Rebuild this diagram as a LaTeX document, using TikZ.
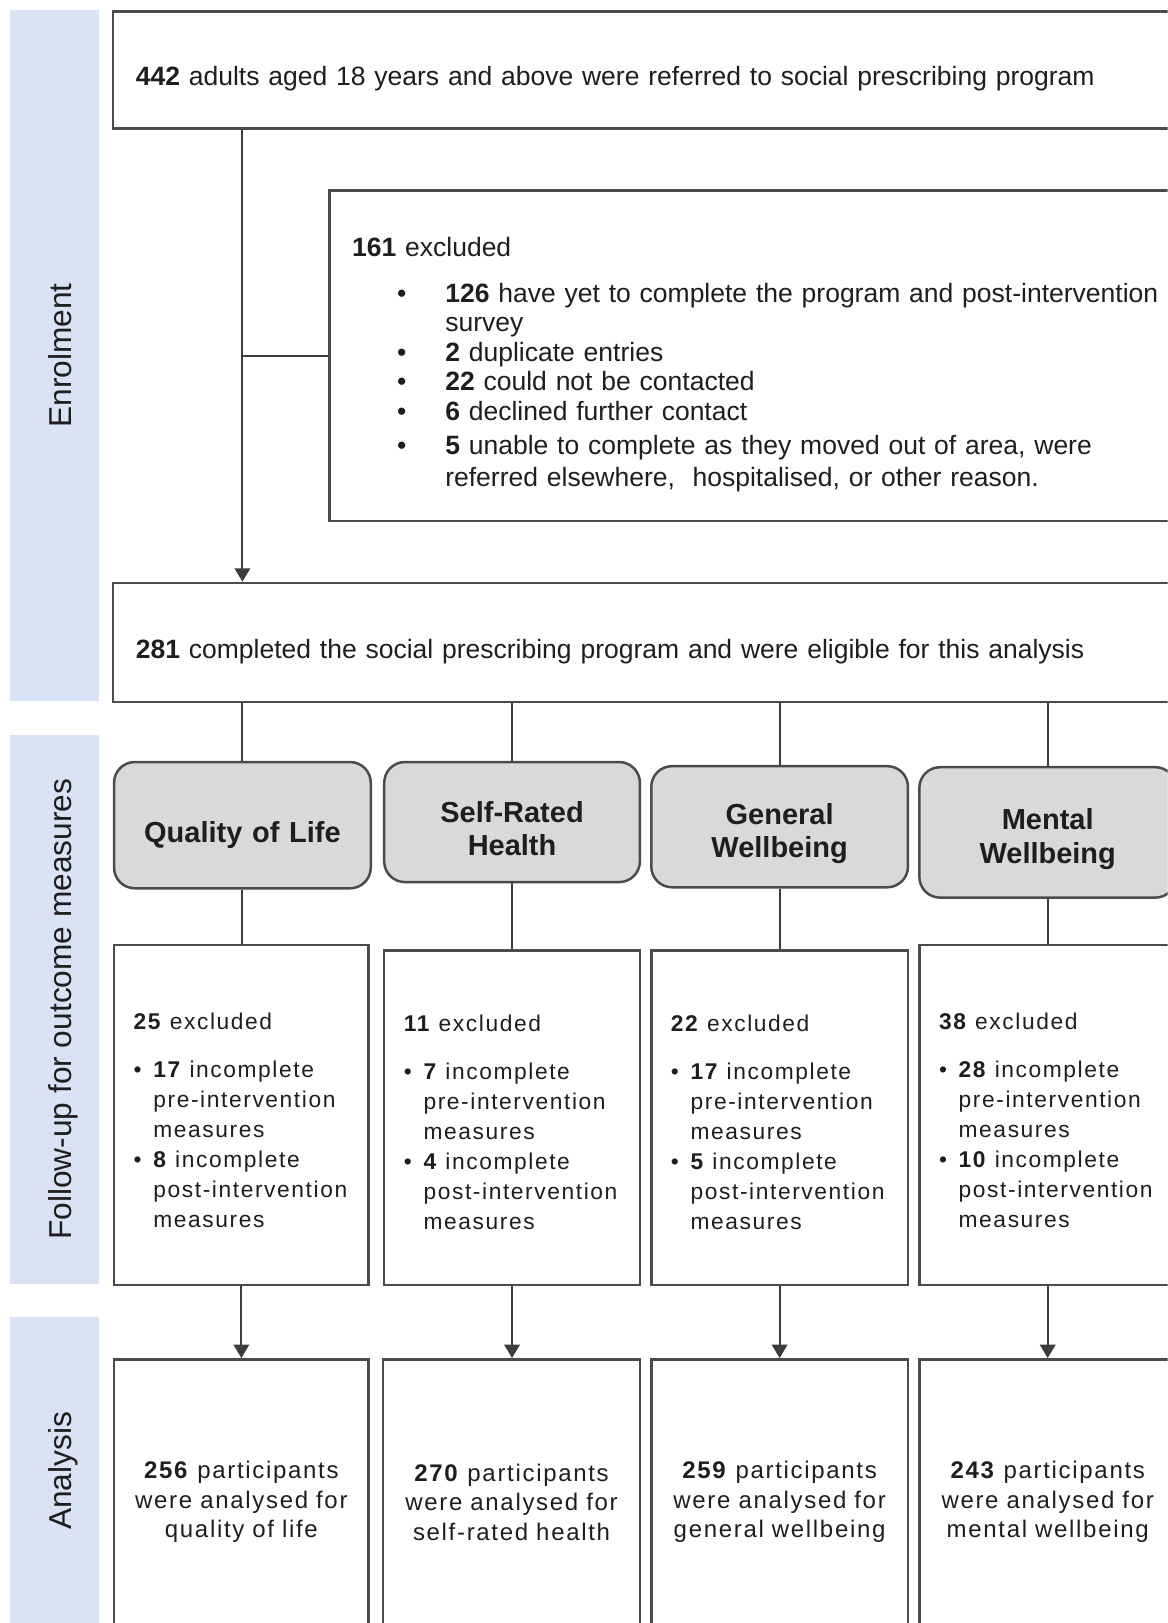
\documentclass[tikz,border=0pt]{standalone}
\usepackage{fontspec}
\setmainfont{Liberation Sans}
\newfontfamily\spacedfont[LetterSpace=7]{Liberation Sans}
\usetikzlibrary{arrows.meta}
\definecolor{bandblue}{RGB}{218,227,243}
\definecolor{boxgrey}{RGB}{217,217,217}
\definecolor{edge}{RGB}{75,75,75}
\definecolor{wire}{RGB}{60,60,60}
\definecolor{ink}{RGB}{30,30,30}
\tikzstyle{band} = [rectangle, fill=bandblue, rotate=90, minimum height=43pt, text height=19pt, text depth=3.2pt, font=\fontsize{15.3pt}{18pt}\selectfont]
\tikzstyle{rec} = [rectangle, draw=edge, line width=1.2pt, fill=white, anchor=north west, align=left]
\tikzstyle{wide} = [rec, inner xsep=11pt, text height=17.9pt, font=\fontsize{12.8pt}{14.25pt}\selectfont]
\tikzstyle{measure} = [rec, rounded corners=10pt, fill=boxgrey, inner xsep=0pt, align=center, text height=16.6pt, font=\fontsize{14pt}{16pt}\selectfont\bfseries]
\tikzstyle{drop} = [rec, inner xsep=9.5pt, text height=12.9pt, font=\spacedfont\fontsize{11pt}{14.5pt}\selectfont]
\tikzstyle{result} = [rec, inner xsep=0pt, align=center, minimum height=138pt, font=\spacedfont\fontsize{11.6pt}{14.25pt}\selectfont]
\tikzstyle{arrow} = [draw=wire, line width=1pt, -{Triangle[width=7.5pt,length=6.5pt]}]
\tikzstyle{line} = [draw=wire, line width=1pt]
\newcommand{\spbullet}{\hspace*{21.7pt}\makebox[23.3pt][l]{\textbullet}}
\newcommand{\spindent}{\hspace*{45pt}}
\newcommand{\fubullet}{\makebox[9.5pt][l]{\textbullet}}
\newcommand{\fuindent}{\hspace*{9.5pt}}

\begin{document}
\begin{tikzpicture}[x=0.5pt, y=-0.5pt, every node/.style={text=ink}]
		\useasboundingbox (0,0) rectangle (1128,1568);
		\clip (0,0) rectangle (1128,1568);
		% stages
		\node (enrolment) [band, minimum width=333.5pt] at (53,343.5) {Enrolment};
		\node (followup) [band, minimum width=265pt] at (53,975) {Follow-up for outcome measures};
		\node (analysis) [band, minimum width=149pt] at (53,1421) {Analysis};
		% enrolment
		\node (referred) [wide, text width=504pt, minimum height=56.5pt] at (108,10) {\textbf{442} adults aged 18 years and above were referred to social prescribing program};
		\node (excluded) [wide, text width=408.5pt, minimum height=159.5pt] at (317,183) {\textbf{161} excluded\\[7.75pt]
			\spbullet\textbf{126} have yet to complete the program and post-intervention\\
			\spindent survey\\
			\spbullet\textbf{2} duplicate entries\\
			\spbullet\textbf{22} could not be contacted\\
			\spbullet\textbf{6} declined further contact\\[2.25pt]
			\spbullet\textbf{5} unable to complete as they moved out of area, were\\[1.25pt]
			\spindent referred elsewhere,\ \ hospitalised, or other reason.};
		\node (eligible) [wide, text width=504pt, minimum height=57.5pt] at (108,562) {\textbf{281} completed the social prescribing program and were eligible for this analysis};
		% outcome measures
		\node (qol) [measure, text width=124pt, minimum height=61pt, text height=19.6pt] at (109,735) {Quality of Life};
		\node (srh) [measure, text width=123.5pt, minimum height=58pt] at (370,735) {Self-Rated\\Health};
		\node (gwb) [measure, text width=124pt, minimum height=58.5pt] at (628,739) {General\\Wellbeing};
		\node (mwb) [measure, text width=124pt, minimum height=63pt] at (887,740) {Mental\\Wellbeing};
		% follow-up exclusions
		\node (dropqol) [drop, text width=104pt, minimum height=164pt] at (109,912) {\textbf{25} excluded\\[8.5pt]
			\fubullet\textbf{17} incomplete\\ \fuindent pre-intervention\\ \fuindent measures\\
			\fubullet\textbf{8} incomplete\\ \fuindent post-intervention\\ \fuindent measures};
		\node (dropsrh) [drop, text width=104.5pt, minimum height=161.5pt] at (370,917) {\textbf{11} excluded\\[8.5pt]
			\fubullet\textbf{7} incomplete\\ \fuindent pre-intervention\\ \fuindent measures\\
			\fubullet\textbf{4} incomplete\\ \fuindent post-intervention\\ \fuindent measures};
		\node (dropgwb) [drop, text width=105pt, minimum height=161.5pt] at (628,917) {\textbf{22} excluded\\[8.5pt]
			\fubullet\textbf{17} incomplete\\ \fuindent pre-intervention\\ \fuindent measures\\
			\fubullet\textbf{5} incomplete\\ \fuindent post-intervention\\ \fuindent measures};
		\node (dropmwb) [drop, text width=105pt, minimum height=164pt] at (887,912) {\textbf{38} excluded\\[8.5pt]
			\fubullet\textbf{28} incomplete\\ \fuindent pre-intervention\\ \fuindent measures\\
			\fubullet\textbf{10} incomplete\\ \fuindent post-intervention\\ \fuindent measures};
		% analysis
		\node (anqol) [result, text width=123pt] at (109,1312) {\textbf{256} participants\\were analysed for\\quality of life};
		\node (ansrh) [result, text width=124pt] at (369,1312) {\textbf{270} participants\\were analysed for\\self-rated health};
		\node (angwb) [result, text width=124pt] at (628,1312) {\textbf{259} participants\\were analysed for\\general wellbeing};
		\node (anmwb) [result, text width=124pt] at (887,1312) {\textbf{243} participants\\were analysed for\\mental wellbeing};
		% connectors
		\draw [arrow] (referred.south -| qol.north) -- (eligible.north -| qol.north);
		\draw [line] (excluded.west) -- (excluded.west -| qol.north);
		\draw [line] (eligible.south -| qol.north) -- (qol.north);
		\draw [line] (eligible.south -| srh.north) -- (srh.north);
		\draw [line] (eligible.south -| gwb.north) -- (gwb.north);
		\draw [line] (eligible.south -| mwb.north) -- (mwb.north);
		\draw [line] (qol.south) -- (qol.south |- dropqol.north);
		\draw [line] (srh.south) -- (srh.south |- dropsrh.north);
		\draw [line] (gwb.south) -- (gwb.south |- dropgwb.north);
		\draw [line] (mwb.south) -- (mwb.south |- dropmwb.north);
		\draw [arrow] (dropqol.south) -- (dropqol.south |- anqol.north);
		\draw [arrow] (dropsrh.south) -- (dropsrh.south |- ansrh.north);
		\draw [arrow] (dropgwb.south) -- (dropgwb.south |- angwb.north);
		\draw [arrow] (dropmwb.south) -- (dropmwb.south |- anmwb.north);
	\end{tikzpicture}
\end{document}
